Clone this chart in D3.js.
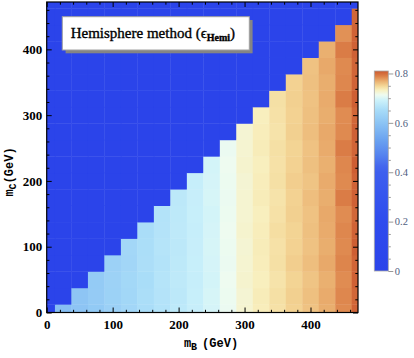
<!DOCTYPE html>
<html>
<head>
<meta charset="utf-8">
<script src="https://cdn.jsdelivr.net/npm/d3@7"></script>
<style>
body{margin:0;background:#fff}
svg{display:block}
</style>
</head>
<body>
<div id="chart"></div>
<script>
var WIDTH = 414
var HEIGHT = 358

// cell centres in GeV
var mB = [0,25,50,75,100,125,150,175,200,225,250,275,300,325,350,375,400,425,450,475]
var mC = [0,25,50,75,100,125,150,175,200,225,250,275,300,325,350,375,400,425,450,475]

// efficiency per mB column, listed from mC = 0 upward (only mC < mB is filled)
var effHemi = [
    [],
    [0.590],
    [0.601,0.603],
    [0.612,0.616,0.615],
    [0.627,0.630,0.631,0.629],
    [0.640,0.641,0.643,0.640,0.642],
    [0.654,0.655,0.653,0.656,0.655,0.654],
    [0.664,0.665,0.666,0.664,0.666,0.665,0.664],
    [0.675,0.674,0.676,0.675,0.674,0.676,0.675,0.674],
    [0.685,0.686,0.684,0.686,0.685,0.684,0.686,0.685,0.684],
    [0.697,0.698,0.696,0.697,0.698,0.697,0.696,0.698,0.697,0.696],
    [0.711,0.712,0.713,0.711,0.712,0.713,0.712,0.711,0.712,0.713,0.711],
    [0.726,0.725,0.727,0.726,0.725,0.727,0.726,0.726,0.725,0.727,0.726,0.725],
    [0.735,0.736,0.734,0.735,0.736,0.735,0.734,0.736,0.735,0.734,0.736,0.735,0.734],
    [0.743,0.744,0.742,0.744,0.743,0.745,0.743,0.742,0.744,0.743,0.744,0.742,0.743,0.744],
    [0.752,0.753,0.751,0.754,0.752,0.751,0.753,0.752,0.754,0.752,0.751,0.753,0.752,0.753,0.752],
    [0.760,0.761,0.759,0.762,0.760,0.761,0.760,0.762,0.759,0.761,0.760,0.762,0.761,0.760,0.761,0.760],
    [0.770,0.771,0.769,0.772,0.770,0.771,0.772,0.770,0.771,0.769,0.771,0.772,0.770,0.771,0.770,0.772,0.769],
    [0.785,0.786,0.784,0.787,0.785,0.786,0.784,0.791,0.785,0.786,0.791,0.785,0.784,0.791,0.786,0.785,0.791,0.782],
    [0.805,0.803,0.806,0.804,0.807,0.805,0.803,0.806,0.805,0.808,0.804,0.806,0.803,0.807,0.805,0.804,0.806,0.805,0.803]
]

// colour bar stops
var colorStops = [0, 0.2, 0.4, 0.425, 0.47, 0.53, 0.6, 0.652, 0.692, 0.713, 0.733, 0.749, 0.769, 0.789, 0.81]
var colorValues = ["#2b44ea","#2e4bee","#3d5fee","#4467ee","#5583ef","#6aa2f0","#8cc4f4","#a8dcf8","#cdf2fa","#eefbf0","#f8f0c0","#f4d898","#eab070","#dc8048","#cc5a30"]

var barTicks = [0, 0.2, 0.4, 0.6, 0.8]
var axisTicks = [0, 100, 200, 300, 400]

var plot = {left: 46.7, right: 358, top: 2, bottom: 312.5}
var half = 12.5

var x = d3.scaleLinear().domain([0, 472]).range([plot.left, plot.right])
var y = d3.scaleLinear().domain([0, 472]).range([plot.bottom, plot.top])
var color = d3.scaleLinear().domain(colorStops).range(colorValues).clamp(true)

var svg = d3.select("#chart").append("svg")
    .attr("width", WIDTH)
    .attr("height", HEIGHT)

svg.append("clipPath").attr("id", "clip")
    .append("rect")
    .attr("x", plot.left).attr("y", plot.top)
    .attr("width", plot.right - plot.left)
    .attr("height", plot.bottom - plot.top)

var cells = []
mB.forEach(function(b, i){
    mC.forEach(function(c, j){
        var v = j < effHemi[i].length ? effHemi[i][j] : 0
        cells.push({mB: b, mC: c, v: v})
    })
})

svg.append("g")
    .attr("clip-path", "url(#clip)")
    .selectAll("rect")
    .data(cells)
    .enter()
    .append("rect")
    .attr("x", function(d){ return x(d.mB - half) })
    .attr("y", function(d){ return y(d.mC + half) })
    .attr("width", x(2 * half) - x(0) + 0.4)
    .attr("height", y(0) - y(2 * half) + 0.4)
    .attr("fill", function(d){ return color(d.v) })

// frame ticks, pointing inwards on all four sides
var minor = [20,40,60,80,120,140,160,180,220,240,260,280,320,340,360,380,420,440,460]
function ticks(axis, scale, size, values, labels){
    return axis(scale).tickValues(values).tickSize(size).tickSizeOuter(0)
        .tickFormat(labels ? d3.format("d") : "")
}
var frame = svg.append("g").attr("class", "frame")
frame.append("g").attr("transform", "translate(0," + plot.bottom + ")")
    .call(ticks(d3.axisBottom, x, -5, axisTicks, true).tickPadding(7.5))
frame.append("g").attr("transform", "translate(0," + plot.bottom + ")")
    .call(ticks(d3.axisBottom, x, -2.7, minor, false))
frame.append("g").attr("transform", "translate(" + plot.left + ",0)")
    .call(ticks(d3.axisLeft, y, -5, axisTicks, true).tickPadding(4.5))
frame.append("g").attr("transform", "translate(" + plot.left + ",0)")
    .call(ticks(d3.axisLeft, y, -2.7, minor, false))
frame.append("g").attr("transform", "translate(0," + plot.top + ")")
    .call(ticks(d3.axisTop, x, -5, axisTicks, false))
frame.append("g").attr("transform", "translate(0," + plot.top + ")")
    .call(ticks(d3.axisTop, x, -2.7, minor, false))
frame.append("g").attr("transform", "translate(" + plot.right + ",0)")
    .call(ticks(d3.axisRight, y, -5, axisTicks, false))
frame.append("g").attr("transform", "translate(" + plot.right + ",0)")
    .call(ticks(d3.axisRight, y, -2.7, minor, false))

frame.selectAll(".domain").remove()
frame.selectAll(".tick line").attr("stroke", "#000")
frame.selectAll(".tick text")
    .attr("font-family", "'Liberation Serif', serif")
    .attr("font-weight", "bold")
    .attr("font-size", 13)
    .attr("fill", "#000")

svg.append("rect")
    .attr("x", plot.left).attr("y", plot.top)
    .attr("width", plot.right - plot.left)
    .attr("height", plot.bottom - plot.top)
    .attr("fill", "none")
    .attr("stroke", "#000")
    .attr("stroke-width", 1.2)

// axis titles
var xt = svg.append("text")
    .attr("x", 211).attr("y", 347)
    .attr("text-anchor", "middle")
    .attr("font-family", "'Liberation Mono', monospace")
    .attr("font-weight", "bold")
    .attr("font-size", 12)
xt.append("tspan").text("m")
xt.append("tspan").attr("font-size", 10).attr("dy", 3).text("B")
xt.append("tspan").attr("dy", -3).attr("dx", 5).text("(GeV)")

var yt = svg.append("text")
    .attr("transform", "translate(13,172) rotate(-90)")
    .attr("text-anchor", "middle")
    .attr("font-family", "'Liberation Mono', monospace")
    .attr("font-weight", "bold")
    .attr("font-size", 12)
yt.append("tspan").text("m")
yt.append("tspan").attr("font-size", 10).attr("dy", 3).text("C")
yt.append("tspan").attr("dy", -3).text("(GeV)")

// label box
svg.append("rect")
    .attr("x", 65.6).attr("y", 20)
    .attr("width", 187).attr("height", 33.3)
    .attr("fill", "#858585")
svg.append("rect")
    .attr("x", 62.3).attr("y", 16.7)
    .attr("width", 187).attr("height", 33.3)
    .attr("fill", "#fff")
    .attr("stroke", "#a0a0a0")
    .attr("stroke-width", 1)
var lab = svg.append("text")
    .attr("x", 70.7).attr("y", 38)
    .attr("font-family", "'Liberation Serif', serif")
    .attr("font-size", 15)
    .attr("fill", "#000")
    .attr("stroke", "#000")
    .attr("stroke-width", 0.35)
lab.append("tspan").text("Hemisphere method (\u03F5")
lab.append("tspan").attr("font-size", 10).attr("font-weight", "bold").attr("dy", 3).text("Hemi")
lab.append("tspan").attr("dy", -3).text(")")

// colour bar
var bar = {x: 374.3, w: 14, top: 71, bottom: 271}
var cb = d3.scaleLinear().domain([0, 0.81]).range([bar.bottom, bar.top])
var grad = svg.append("defs").append("linearGradient")
    .attr("id", "cbar").attr("x1", 0).attr("y1", 1).attr("x2", 0).attr("y2", 0)
grad.selectAll("stop")
    .data(colorStops)
    .enter().append("stop")
    .attr("offset", function(d){ return d / 0.81 })
    .attr("stop-color", function(d){ return color(d) })
svg.append("rect")
    .attr("x", bar.x).attr("y", bar.top)
    .attr("width", bar.w).attr("height", bar.bottom - bar.top)
    .attr("fill", "url(#cbar)")
    .attr("stroke", "#a8a8a8")
    .attr("stroke-width", 0.8)

var cbAxis = svg.append("g").attr("transform", "translate(" + (bar.x + bar.w) + ",0)")
cbAxis.call(d3.axisRight(cb).tickValues(barTicks).tickSize(5).tickPadding(1.5).tickSizeOuter(0)
    .tickFormat(function(d){ return d === 0 ? "0" : d3.format(".1f")(d) }))
var cbMinor = svg.append("g").attr("transform", "translate(" + (bar.x + bar.w) + ",0)")
cbMinor.call(d3.axisRight(cb).tickValues([0.05,0.1,0.15,0.25,0.3,0.35,0.45,0.5,0.55,0.65,0.7,0.75])
    .tickSize(2.5).tickSizeOuter(0).tickFormat(""))
svg.selectAll(".domain").remove()
cbAxis.selectAll("line").attr("stroke", "#999")
cbMinor.selectAll("line").attr("stroke", "#999")
cbAxis.selectAll("text")
    .attr("font-family", "'Liberation Serif', serif")
    .attr("font-size", 10.5)
    .attr("fill", "#4f6080")
</script>
</body>
</html>
